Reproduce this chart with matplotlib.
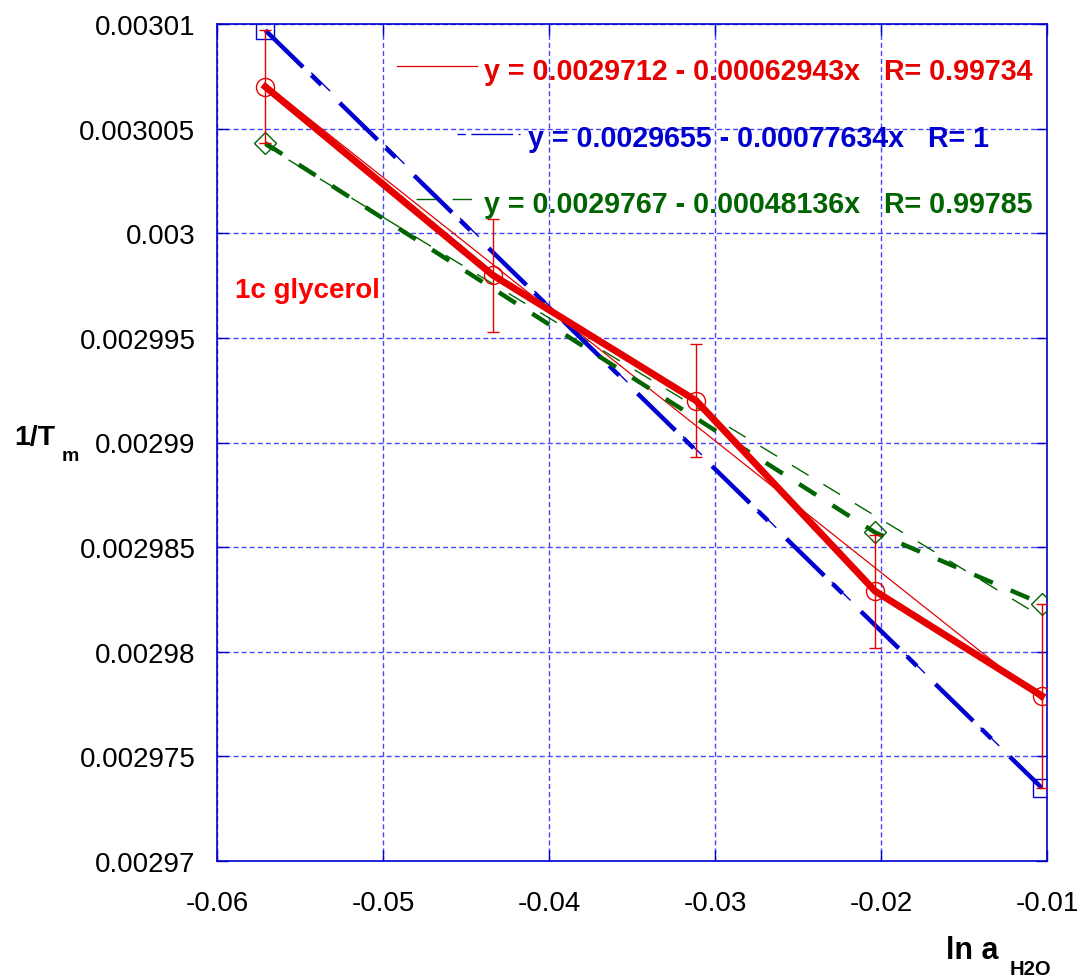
import matplotlib
matplotlib.use("Agg")
import matplotlib.pyplot as plt
from matplotlib.lines import Line2D
from matplotlib.ticker import FixedLocator, FixedFormatter

plt.rcParams['font.family'] = ['Liberation Sans', 'DejaVu Sans']
plt.rcParams['lines.scale_dashes'] = False

# ---- data ----
x_vals = [-0.05709, -0.04339, -0.03114, -0.02036, -0.01032]
red_y = [0.0030070, 0.0029980, 0.0029920, 0.0029829, 0.0029779]
red_err = [2.7e-6, 2.7e-6, 2.7e-6, 2.7e-6, 4.4e-6]
blue_x = [-0.05709, -0.01032]
blue_y = [0.0030097, 0.0029735]
green_x = [-0.05709, -0.02036, -0.01032]
green_y = [0.0030043, 0.0029857, 0.0029823]

red_fit = (0.0029712, 0.00062943)
blue_fit = (0.0029655, 0.00077634)
green_fit = (0.0029767, 0.00048136)

legend_texts = ["y = 0.0029712 - 0.00062943x   R= 0.99734",
                "y = 0.0029655 - 0.00077634x   R= 1",
                "y = 0.0029767 - 0.00048136x   R= 0.99785"]

x_ticks = [-0.06, -0.05, -0.04, -0.03, -0.02, -0.01]
x_ticklabels = ["-0.06", "-0.05", "-0.04", "-0.03", "-0.02", "-0.01"]
y_ticks = [0.00297, 0.002975, 0.00298, 0.002985, 0.00299, 0.002995, 0.003, 0.003005, 0.00301]
y_ticklabels = ["0.00297", "0.002975", "0.00298", "0.002985", "0.00299",
                "0.002995", "0.003", "0.003005", "0.00301"]

RED = '#e60000'
BLUE = '#0000d0'
GREEN = '#006400'
GRID = '#4646ff'

W, H = 1084, 979
fig = plt.figure(figsize=(W / 100, H / 100), dpi=100)
ax = fig.add_axes([217 / W, 1 - 862 / H, 830 / W, 837 / H])
ax.set_xlim(-0.06, -0.01)
ax.set_ylim(0.00297, 0.00301)

# grid
ax.grid(True, color=GRID, lw=1.0, ls=(0, (3.6, 2.2)))
ax.set_axisbelow(True)

def fitline(xs, fit):
    a, b = fit
    x0, x1 = xs[0], xs[-1]
    return [x0, x1], [a - b * x0, a - b * x1]

BLUE_THICK = (0, (38, 8.3, 10, 18.6))
BLUE_THIN = (28.6, (19, 55.9))
GREEN_THICK = (0, (14.5, 14))
GREEN_THIN = (7, (14, 12.5))

# fit lines (thin)
fx, fy = fitline(x_vals, red_fit)
ax.plot(fx, fy, color=RED, lw=0.9, zorder=3)
fx, fy = fitline(blue_x, blue_fit)
ax.plot(fx, fy, color=BLUE, lw=1.0, ls=BLUE_THIN, zorder=3)
fx, fy = fitline(green_x, green_fit)
ax.plot(fx, fy, color=GREEN, lw=1.0, ls=GREEN_THIN, zorder=3)

# data lines (thick)
ax.plot(blue_x, blue_y, color=BLUE, lw=3.2, ls=BLUE_THICK, zorder=4,
        marker='s', ms=13, mfc='none', mec=BLUE, mew=1.0)
ax.plot(green_x, green_y, color=GREEN, lw=3.2, ls=GREEN_THICK, zorder=4,
        marker='D', ms=11, mfc='none', mec=GREEN, mew=1.0)
ax.errorbar(x_vals, red_y, yerr=red_err, fmt='none', ecolor=RED, elinewidth=1.0,
            capsize=4.5, capthick=1.0, zorder=5)
ax.plot(x_vals, red_y, color=RED, lw=5.0, zorder=6, solid_joinstyle='miter',
        marker='o', ms=13, mfc='none', mec=RED, mew=1.0)

# ticks
ax.xaxis.set_major_locator(FixedLocator(x_ticks))
ax.xaxis.set_major_formatter(FixedFormatter(x_ticklabels))
ax.yaxis.set_major_locator(FixedLocator(y_ticks))
ax.yaxis.set_major_formatter(FixedFormatter(y_ticklabels))
ax.tick_params(direction='in', length=8, width=1, color=BLUE, top=True, right=True,
               labelsize=20, labelcolor='black')
ax.tick_params(axis='y', pad=15.5)
ax.tick_params(axis='x', pad=21)
for s in ax.spines.values():
    s.set_color(BLUE)
    s.set_linewidth(1.2)

# legend (custom)
def fx_(px):
    return px / W
def fy_(py):
    return 1 - py / H

fig.add_artist(Line2D([fx_(397), fx_(477)], [fy_(67), fy_(67)], color=RED, lw=0.9))
fig.add_artist(Line2D([fx_(457), fx_(520)], [fy_(135), fy_(135)], color=BLUE, lw=1.0,
                      ls=(0, (6, 4, 30, 4))))
fig.add_artist(Line2D([fx_(416), fx_(477)], [fy_(200), fy_(200)], color=GREEN, lw=1.0,
                      ls=(0, (14, 12))))
fig.text(fx_(484), fy_(80), legend_texts[0], color=RED, fontsize=20.6, fontweight='bold', va='baseline')
fig.text(fx_(528), fy_(147), legend_texts[1], color=BLUE, fontsize=20.6, fontweight='bold', va='baseline')
fig.text(fx_(484), fy_(213), legend_texts[2], color=GREEN, fontsize=20.6, fontweight='bold', va='baseline')

fig.text(fx_(235), fy_(298), "1c glycerol", color='#ff0000', fontsize=20, fontweight='bold', va='baseline')

# axis labels
fig.text(fx_(14), fy_(445), "1/T", fontsize=20.5, fontweight='bold', va='baseline')
fig.text(fx_(62), fy_(461), "m", fontsize=14, fontweight='bold', va='baseline')
fig.text(fx_(946), fy_(959), "ln a", fontsize=22, fontweight='bold', va='baseline')
fig.text(fx_(1010), fy_(975), "H2O", fontsize=14.5, fontweight='bold', va='baseline')

fig.savefig("out.png", dpi=100)
